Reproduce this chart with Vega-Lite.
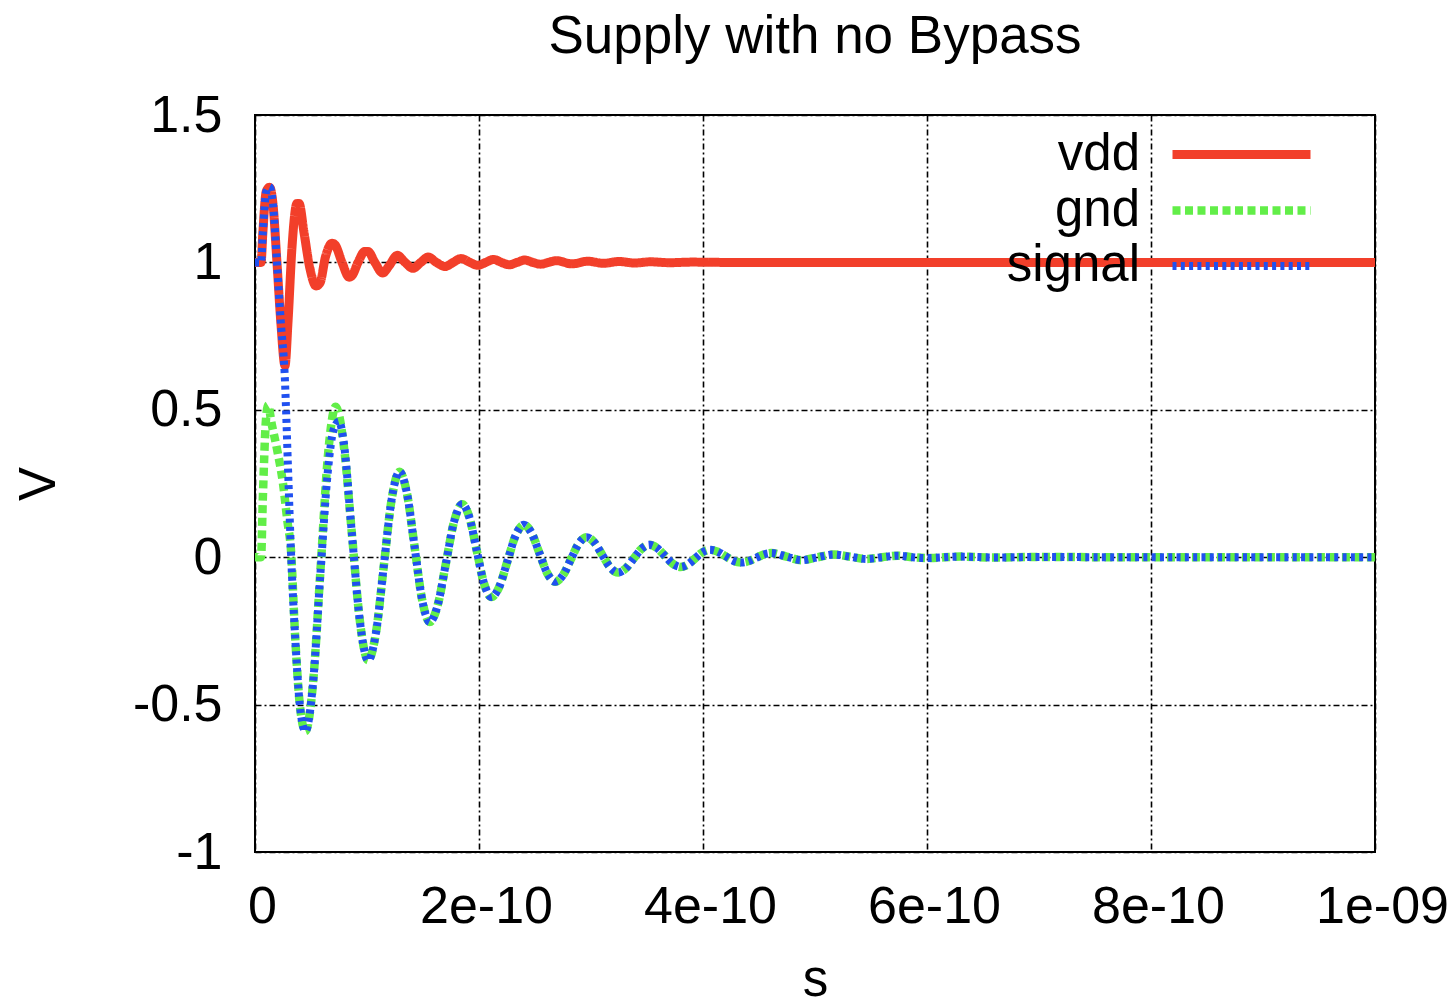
{
  "$schema": "https://vega.github.io/schema/vega-lite/v6.json",
  "width": 1120,
  "height": 737,
  "autosize": "none",
  "padding": {"left": 255, "top": 115, "right": 79, "bottom": 153},
  "background": "white",
  "config": {
    "font": "Liberation Sans",
    "view": {"stroke": "black", "strokeWidth": 2},
    "axis": {
      "grid": true,
      "gridColor": "black",
      "gridDash": [6, 3, 2, 3],
      "gridWidth": 1.6,
      "gridOpacity": 1,
      "domain": false,
      "ticks": false,
      "tickSize": 0,
      "labelFont": "Liberation Sans",
      "labelFontSize": 52,
      "labelColor": "black",
      "titleFont": "Liberation Sans",
      "titleFontSize": 51,
      "titleFontWeight": "normal",
      "titleColor": "black"
    }
  },
  "title": {
    "text": "Supply with no Bypass",
    "font": "Liberation Sans",
    "fontSize": 53,
    "fontWeight": "normal",
    "color": "black",
    "anchor": "middle",
    "frame": "group",
    "offset": 25
  },
  "data": {
    "values": [
      {"series": "vdd", "t": 0e-12, "v": 1.0},
      {"series": "vdd", "t": 5.4e-12, "v": 1.0},
      {"series": "vdd", "t": 7e-12, "v": 1.1},
      {"series": "vdd", "t": 10e-12, "v": 1.24},
      {"series": "vdd", "t": 13e-12, "v": 1.255},
      {"series": "vdd", "t": 16e-12, "v": 1.2},
      {"series": "vdd", "t": 19.6e-12, "v": 1.0},
      {"series": "vdd", "t": 23e-12, "v": 0.8},
      {"series": "vdd", "t": 26.8e-12, "v": 0.65},
      {"series": "vdd", "t": 29.5e-12, "v": 0.8},
      {"series": "vdd", "t": 33e-12, "v": 1.05},
      {"series": "vdd", "t": 37.5e-12, "v": 1.2},
      {"series": "vdd", "t": 39.3e-12, "v": 1.2},
      {"series": "vdd", "t": 43.8e-12, "v": 1.1},
      {"series": "vdd", "t": 49e-12, "v": 0.98},
      {"series": "vdd", "t": 54.5e-12, "v": 0.92},
      {"series": "vdd", "t": 58e-12, "v": 0.93},
      {"series": "vdd", "t": 63e-12, "v": 1.02},
      {"series": "vdd", "t": 68.8e-12, "v": 1.065},
      {"series": "vdd", "t": 71.4e-12, "v": 1.06},
      {"series": "vdd", "t": 77.7e-12, "v": 1.0},
      {"series": "vdd", "t": 84e-12, "v": 0.95},
      {"series": "vdd", "t": 86.6e-12, "v": 0.955},
      {"series": "vdd", "t": 92e-12, "v": 1.0},
      {"series": "vdd", "t": 98e-12, "v": 1.037},
      {"series": "vdd", "t": 100.9e-12, "v": 1.037},
      {"series": "vdd", "t": 107e-12, "v": 1.0},
      {"series": "vdd", "t": 114e-12, "v": 0.964},
      {"series": "vdd", "t": 120e-12, "v": 0.99},
      {"series": "vdd", "t": 127e-12, "v": 1.024},
      {"series": "vdd", "t": 134e-12, "v": 1.0},
      {"series": "vdd", "t": 141e-12, "v": 0.98},
      {"series": "vdd", "t": 148e-12, "v": 1.0},
      {"series": "vdd", "t": 154.5e-12, "v": 1.018},
      {"series": "vdd", "t": 162e-12, "v": 1.0},
      {"series": "vdd", "t": 169.6e-12, "v": 0.986},
      {"series": "vdd", "t": 177e-12, "v": 1.0},
      {"series": "vdd", "t": 183.9e-12, "v": 1.013},
      {"series": "vdd", "t": 192e-12, "v": 1.0},
      {"series": "vdd", "t": 199e-12, "v": 0.99},
      {"series": "vdd", "t": 206e-12, "v": 1.0},
      {"series": "vdd", "t": 213e-12, "v": 1.01},
      {"series": "vdd", "t": 220e-12, "v": 1.0},
      {"series": "vdd", "t": 227e-12, "v": 0.992},
      {"series": "vdd", "t": 234e-12, "v": 1.0},
      {"series": "vdd", "t": 241e-12, "v": 1.008},
      {"series": "vdd", "t": 248e-12, "v": 1.0},
      {"series": "vdd", "t": 255e-12, "v": 0.994},
      {"series": "vdd", "t": 262e-12, "v": 1.0},
      {"series": "vdd", "t": 269e-12, "v": 1.006},
      {"series": "vdd", "t": 283e-12, "v": 0.995},
      {"series": "vdd", "t": 297e-12, "v": 1.004},
      {"series": "vdd", "t": 311e-12, "v": 0.997},
      {"series": "vdd", "t": 325e-12, "v": 1.003},
      {"series": "vdd", "t": 339e-12, "v": 0.998},
      {"series": "vdd", "t": 353e-12, "v": 1.002},
      {"series": "vdd", "t": 370e-12, "v": 0.999},
      {"series": "vdd", "t": 390e-12, "v": 1.001},
      {"series": "vdd", "t": 420e-12, "v": 1.0},
      {"series": "vdd", "t": 1000e-12, "v": 1.0},

      {"series": "gnd", "t": 0e-12, "v": 0},
      {"series": "gnd", "t": 5.4e-12, "v": 0},
      {"series": "gnd", "t": 7e-12, "v": 0.2},
      {"series": "gnd", "t": 9.5e-12, "v": 0.45},
      {"series": "gnd", "t": 11.6e-12, "v": 0.515},
      {"series": "gnd", "t": 15e-12, "v": 0.45},
      {"series": "gnd", "t": 20e-12, "v": 0.36},
      {"series": "gnd", "t": 25e-12, "v": 0.25},
      {"series": "gnd", "t": 29e-12, "v": 0.12},
      {"series": "gnd", "t": 32e-12, "v": 0.03},
      {"series": "gnd", "t": 36e-12, "v": -0.28},
      {"series": "gnd", "t": 40e-12, "v": -0.5},
      {"series": "gnd", "t": 45e-12, "v": -0.59},
      {"series": "gnd", "t": 51.75e-12, "v": -0.43},
      {"series": "gnd", "t": 58.5e-12, "v": -0.04},
      {"series": "gnd", "t": 65.25e-12, "v": 0.35},
      {"series": "gnd", "t": 72e-12, "v": 0.51},
      {"series": "gnd", "t": 79.25e-12, "v": 0.38},
      {"series": "gnd", "t": 86.5e-12, "v": 0.08},
      {"series": "gnd", "t": 93.75e-12, "v": -0.22},
      {"series": "gnd", "t": 101e-12, "v": -0.35},
      {"series": "gnd", "t": 108e-12, "v": -0.256},
      {"series": "gnd", "t": 115e-12, "v": -0.03},
      {"series": "gnd", "t": 122e-12, "v": 0.196},
      {"series": "gnd", "t": 129e-12, "v": 0.29},
      {"series": "gnd", "t": 135.75e-12, "v": 0.215},
      {"series": "gnd", "t": 142.5e-12, "v": 0.035},
      {"series": "gnd", "t": 149.25e-12, "v": -0.145},
      {"series": "gnd", "t": 156e-12, "v": -0.22},
      {"series": "gnd", "t": 163.25e-12, "v": -0.161},
      {"series": "gnd", "t": 170.5e-12, "v": -0.02},
      {"series": "gnd", "t": 177.75e-12, "v": 0.121},
      {"series": "gnd", "t": 185e-12, "v": 0.18},
      {"series": "gnd", "t": 191.5e-12, "v": 0.134},
      {"series": "gnd", "t": 198e-12, "v": 0.0225},
      {"series": "gnd", "t": 204.5e-12, "v": -0.089},
      {"series": "gnd", "t": 211e-12, "v": -0.135},
      {"series": "gnd", "t": 218.25e-12, "v": -0.099},
      {"series": "gnd", "t": 225.5e-12, "v": -0.0125},
      {"series": "gnd", "t": 232.75e-12, "v": 0.074},
      {"series": "gnd", "t": 240e-12, "v": 0.11},
      {"series": "gnd", "t": 247e-12, "v": 0.082},
      {"series": "gnd", "t": 254e-12, "v": 0.0135},
      {"series": "gnd", "t": 261e-12, "v": -0.055},
      {"series": "gnd", "t": 268e-12, "v": -0.083},
      {"series": "gnd", "t": 275e-12, "v": -0.061},
      {"series": "gnd", "t": 282e-12, "v": -0.0075},
      {"series": "gnd", "t": 289e-12, "v": 0.046},
      {"series": "gnd", "t": 296e-12, "v": 0.068},
      {"series": "gnd", "t": 303e-12, "v": 0.05},
      {"series": "gnd", "t": 310e-12, "v": 0.008},
      {"series": "gnd", "t": 317e-12, "v": -0.034},
      {"series": "gnd", "t": 324e-12, "v": -0.052},
      {"series": "gnd", "t": 331e-12, "v": -0.038},
      {"series": "gnd", "t": 338e-12, "v": -0.005},
      {"series": "gnd", "t": 345e-12, "v": 0.028},
      {"series": "gnd", "t": 352e-12, "v": 0.042},
      {"series": "gnd", "t": 359e-12, "v": 0.031},
      {"series": "gnd", "t": 366e-12, "v": 0.0045},
      {"series": "gnd", "t": 373e-12, "v": -0.022},
      {"series": "gnd", "t": 380e-12, "v": -0.033},
      {"series": "gnd", "t": 386.5e-12, "v": -0.0245},
      {"series": "gnd", "t": 393e-12, "v": -0.004},
      {"series": "gnd", "t": 399.5e-12, "v": 0.0165},
      {"series": "gnd", "t": 406e-12, "v": 0.025},
      {"series": "gnd", "t": 413e-12, "v": 0.019},
      {"series": "gnd", "t": 420e-12, "v": 0.0035},
      {"series": "gnd", "t": 427e-12, "v": -0.012},
      {"series": "gnd", "t": 434e-12, "v": -0.018},
      {"series": "gnd", "t": 441e-12, "v": -0.013},
      {"series": "gnd", "t": 447.5e-12, "v": -0.002},
      {"series": "gnd", "t": 454e-12, "v": 0.009},
      {"series": "gnd", "t": 461e-12, "v": 0.014},
      {"series": "gnd", "t": 474.5e-12, "v": 0.002},
      {"series": "gnd", "t": 488e-12, "v": -0.01},
      {"series": "gnd", "t": 502.5e-12, "v": 0},
      {"series": "gnd", "t": 517e-12, "v": 0.009},
      {"series": "gnd", "t": 531.5e-12, "v": 0.0015},
      {"series": "gnd", "t": 546e-12, "v": -0.006},
      {"series": "gnd", "t": 560e-12, "v": 0},
      {"series": "gnd", "t": 574e-12, "v": 0.005},
      {"series": "gnd", "t": 587e-12, "v": 0},
      {"series": "gnd", "t": 600e-12, "v": -0.003},
      {"series": "gnd", "t": 630e-12, "v": 0.002},
      {"series": "gnd", "t": 660e-12, "v": -0.001},
      {"series": "gnd", "t": 700e-12, "v": 0.001},
      {"series": "gnd", "t": 760e-12, "v": 0},
      {"series": "gnd", "t": 1000e-12, "v": 0},

      {"series": "signal", "t": 0e-12, "v": 1.0},
      {"series": "signal", "t": 5.4e-12, "v": 1.0},
      {"series": "signal", "t": 7e-12, "v": 1.1},
      {"series": "signal", "t": 10e-12, "v": 1.24},
      {"series": "signal", "t": 13e-12, "v": 1.255},
      {"series": "signal", "t": 16e-12, "v": 1.2},
      {"series": "signal", "t": 19.6e-12, "v": 1.0},
      {"series": "signal", "t": 23e-12, "v": 0.8},
      {"series": "signal", "t": 26.5e-12, "v": 0.62},
      {"series": "signal", "t": 29.5e-12, "v": 0.3},
      {"series": "signal", "t": 32e-12, "v": 0.03},
      {"series": "signal", "t": 36e-12, "v": -0.28},
      {"series": "signal", "t": 40e-12, "v": -0.5},
      {"series": "signal", "t": 45e-12, "v": -0.59},
      {"series": "signal", "t": 51.75e-12, "v": -0.43},
      {"series": "signal", "t": 58.5e-12, "v": -0.05},
      {"series": "signal", "t": 65.25e-12, "v": 0.3},
      {"series": "signal", "t": 70e-12, "v": 0.43},
      {"series": "signal", "t": 75e-12, "v": 0.46},
      {"series": "signal", "t": 79.25e-12, "v": 0.39},
      {"series": "signal", "t": 86.5e-12, "v": 0.08},
      {"series": "signal", "t": 93.75e-12, "v": -0.22},
      {"series": "signal", "t": 101e-12, "v": -0.35},
      {"series": "signal", "t": 108e-12, "v": -0.256},
      {"series": "signal", "t": 115e-12, "v": -0.03},
      {"series": "signal", "t": 122e-12, "v": 0.196},
      {"series": "signal", "t": 129e-12, "v": 0.29},
      {"series": "signal", "t": 135.75e-12, "v": 0.215},
      {"series": "signal", "t": 142.5e-12, "v": 0.035},
      {"series": "signal", "t": 149.25e-12, "v": -0.145},
      {"series": "signal", "t": 156e-12, "v": -0.22},
      {"series": "signal", "t": 163.25e-12, "v": -0.161},
      {"series": "signal", "t": 170.5e-12, "v": -0.02},
      {"series": "signal", "t": 177.75e-12, "v": 0.121},
      {"series": "signal", "t": 185e-12, "v": 0.18},
      {"series": "signal", "t": 191.5e-12, "v": 0.134},
      {"series": "signal", "t": 198e-12, "v": 0.0225},
      {"series": "signal", "t": 204.5e-12, "v": -0.089},
      {"series": "signal", "t": 211e-12, "v": -0.135},
      {"series": "signal", "t": 218.25e-12, "v": -0.099},
      {"series": "signal", "t": 225.5e-12, "v": -0.0125},
      {"series": "signal", "t": 232.75e-12, "v": 0.074},
      {"series": "signal", "t": 240e-12, "v": 0.11},
      {"series": "signal", "t": 247e-12, "v": 0.082},
      {"series": "signal", "t": 254e-12, "v": 0.0135},
      {"series": "signal", "t": 261e-12, "v": -0.055},
      {"series": "signal", "t": 268e-12, "v": -0.083},
      {"series": "signal", "t": 275e-12, "v": -0.061},
      {"series": "signal", "t": 282e-12, "v": -0.0075},
      {"series": "signal", "t": 289e-12, "v": 0.046},
      {"series": "signal", "t": 296e-12, "v": 0.068},
      {"series": "signal", "t": 303e-12, "v": 0.05},
      {"series": "signal", "t": 310e-12, "v": 0.008},
      {"series": "signal", "t": 317e-12, "v": -0.034},
      {"series": "signal", "t": 324e-12, "v": -0.052},
      {"series": "signal", "t": 331e-12, "v": -0.038},
      {"series": "signal", "t": 338e-12, "v": -0.005},
      {"series": "signal", "t": 345e-12, "v": 0.028},
      {"series": "signal", "t": 352e-12, "v": 0.042},
      {"series": "signal", "t": 359e-12, "v": 0.031},
      {"series": "signal", "t": 366e-12, "v": 0.0045},
      {"series": "signal", "t": 373e-12, "v": -0.022},
      {"series": "signal", "t": 380e-12, "v": -0.033},
      {"series": "signal", "t": 386.5e-12, "v": -0.0245},
      {"series": "signal", "t": 393e-12, "v": -0.004},
      {"series": "signal", "t": 399.5e-12, "v": 0.0165},
      {"series": "signal", "t": 406e-12, "v": 0.025},
      {"series": "signal", "t": 413e-12, "v": 0.019},
      {"series": "signal", "t": 420e-12, "v": 0.0035},
      {"series": "signal", "t": 427e-12, "v": -0.012},
      {"series": "signal", "t": 434e-12, "v": -0.018},
      {"series": "signal", "t": 441e-12, "v": -0.013},
      {"series": "signal", "t": 447.5e-12, "v": -0.002},
      {"series": "signal", "t": 454e-12, "v": 0.009},
      {"series": "signal", "t": 461e-12, "v": 0.014},
      {"series": "signal", "t": 474.5e-12, "v": 0.002},
      {"series": "signal", "t": 488e-12, "v": -0.01},
      {"series": "signal", "t": 502.5e-12, "v": 0},
      {"series": "signal", "t": 517e-12, "v": 0.009},
      {"series": "signal", "t": 531.5e-12, "v": 0.0015},
      {"series": "signal", "t": 546e-12, "v": -0.006},
      {"series": "signal", "t": 560e-12, "v": 0},
      {"series": "signal", "t": 574e-12, "v": 0.005},
      {"series": "signal", "t": 587e-12, "v": 0},
      {"series": "signal", "t": 600e-12, "v": -0.003},
      {"series": "signal", "t": 630e-12, "v": 0.002},
      {"series": "signal", "t": 660e-12, "v": -0.001},
      {"series": "signal", "t": 700e-12, "v": 0.001},
      {"series": "signal", "t": 760e-12, "v": 0},
      {"series": "signal", "t": 1000e-12, "v": 0}
    ]
  },
  "encoding": {
    "x": {
      "field": "t",
      "type": "quantitative",
      "scale": {"domain": [0, 1e-9], "nice": false, "zero": false},
      "axis": {
        "title": "s",
        "values": [0, 2e-10, 4e-10, 6e-10, 8e-10, 1e-9],
        "labelExpr": "datum.value == 0 ? '0' : (datum.value > 9.9e-10 ? '1e-09' : format(datum.value, '.0e'))",
        "labelBaseline": "alphabetic",
        "labelPadding": 70,
        "labelOffset": 7,
        "labelFlush": false,
        "titleBaseline": "alphabetic",
        "titleY": 143,
        "titleX": 560
      }
    },
    "y": {
      "field": "v",
      "type": "quantitative",
      "scale": {"domain": [-1, 1.5], "nice": false, "zero": false},
      "axis": {
        "title": "V",
        "values": [-1, -0.5, 0, 0.5, 1, 1.5],
        "labelExpr": "toString(datum.value)",
        "labelPadding": 33,
        "labelFlush": false,
        "titleAngle": -90,
        "titleBaseline": "alphabetic",
        "titleX": -201,
        "titleY": 368.5
      }
    },
    "color": {
      "field": "series",
      "type": "nominal",
      "scale": {"domain": ["vdd", "gnd", "signal"], "range": ["#f23f2a", "#62ee48", "#2050f0"]},
      "legend": {
        "title": null,
        "orient": "none",
        "legendX": 959,
        "legendY": 12,
        "padding": 0,
        "symbolType": "M-3,0H3",
        "symbolSize": 2116,
        "symbolStrokeWidth": 8,
        "labelAlign": "right",
        "labelOffset": -129,
        "labelFontSize": 51,
        "labelFont": "Liberation Sans",
        "labelColor": "black",
        "rowPadding": 3,
        "labelLimit": 400
      }
    },
    "strokeDash": {
      "field": "series",
      "type": "nominal",
      "scale": {"domain": ["vdd", "gnd", "signal"], "range": [[1, 0], [8, 4.5], [4, 4.3]]},
      "legend": null
    },
    "strokeWidth": {
      "field": "series",
      "type": "nominal",
      "scale": {"domain": ["vdd", "gnd", "signal"], "range": [9, 8, 8]},
      "legend": null
    }
  },
  "layer": [
    {"transform": [{"filter": "datum.series == 'vdd'"}], "mark": {"type": "line", "interpolate": "monotone", "clip": true}},
    {"transform": [{"filter": "datum.series == 'gnd'"}], "mark": {"type": "line", "interpolate": "monotone", "clip": true}},
    {"transform": [{"filter": "datum.series == 'signal'"}], "mark": {"type": "line", "interpolate": "monotone", "clip": true}}
  ]
}
